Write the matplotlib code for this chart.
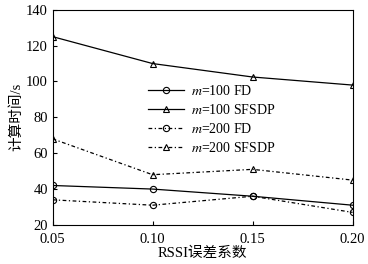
import matplotlib
matplotlib.use("Agg")
import matplotlib.pyplot as plt

plt.rcParams['font.family'] = ['Liberation Serif', 'Noto Sans CJK SC']
plt.rcParams['mathtext.fontset'] = 'stix'

x_values = [0.05, 0.10, 0.15, 0.20]
x_labels = ["0.05", "0.10", "0.15", "0.20"]
m100_fd = [42, 40, 36, 31]
m100_sfsdp = [125, 110, 102.5, 98]
m200_fd = [34, 31, 36, 27]
m200_sfsdp = [68, 48, 51, 45]

fig = plt.figure(figsize=(3.68, 2.64), dpi=100)
ax = fig.add_axes([0.143, 0.148, 0.815, 0.815])

style = dict(color="black", linewidth=0.9, markersize=4.5, markerfacecolor="none",
             markeredgewidth=0.8)
ax.plot(x_values, m100_fd, "-", marker="o", label="$m$=100 FD", **style)
ax.plot(x_values, m100_sfsdp, "-", marker="^", label="$m$=100 SFSDP", **style)
ax.plot(x_values, m200_fd, linestyle=(0, (3, 2, 1, 2)), marker="o",
        label="$m$=200 FD", **style)
ax.plot(x_values, m200_sfsdp, linestyle=(0, (3, 2, 1, 2)), marker="^",
        label="$m$=200 SFSDP", **style)

ax.set_xlim(0.05, 0.20)
ax.set_ylim(20, 140)
ax.set_xticks(x_values)
ax.set_xticklabels(x_labels)
ax.set_yticks(range(20, 141, 20))
ax.tick_params(direction="in", labelsize=10.5, length=3, width=0.8)
ax.tick_params(axis="x", pad=6)
for spine in ax.spines.values():
    spine.set_linewidth(0.8)

ax.set_xlabel("RSSI误差系数", fontsize=10.5, labelpad=0)
ax.set_ylabel("计算时间/s", fontsize=10.5, labelpad=2)

ax.legend(loc="center", bbox_to_anchor=(0.53, 0.49), frameon=False, fontsize=10,
          handlelength=2.6, labelspacing=0.35, borderpad=0.2, handletextpad=0.5)

fig.savefig("out.png", dpi=100)
